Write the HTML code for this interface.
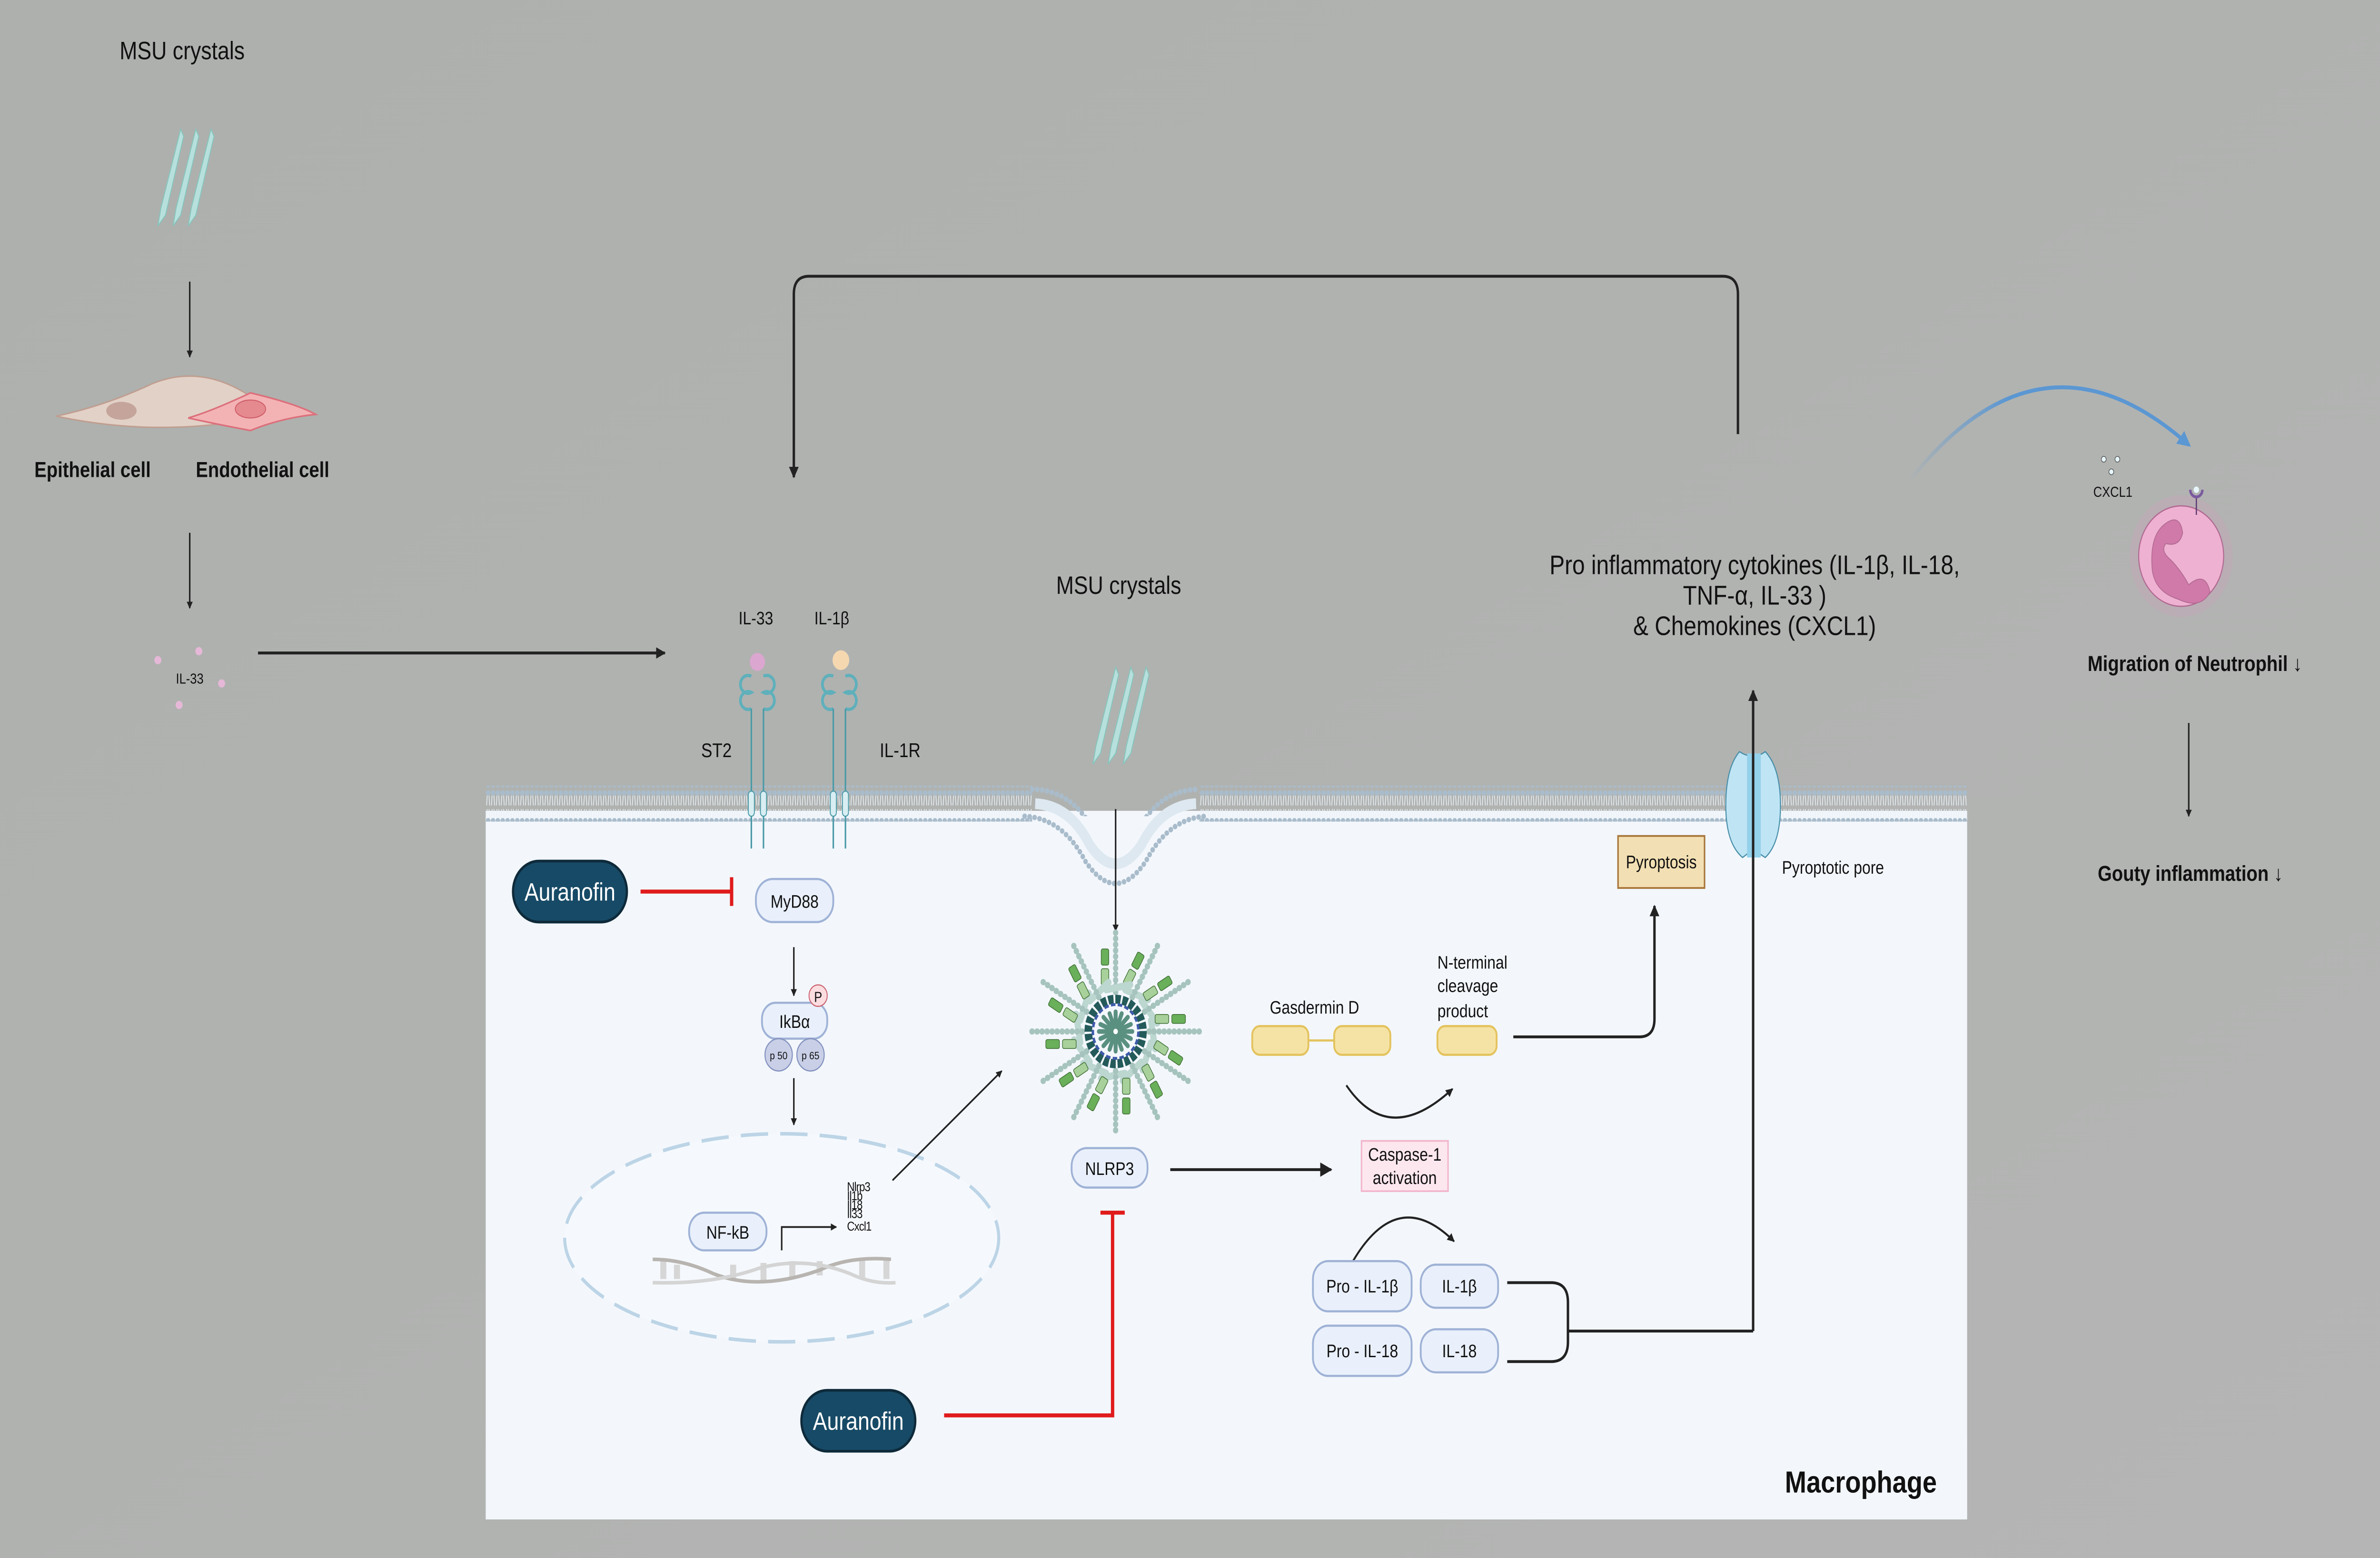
<!DOCTYPE html>
<html><head><meta charset="utf-8"><style>
html,body{margin:0;padding:0;background:#b1b3b1;width:100%;height:100%;overflow:hidden;}
svg{display:block;position:absolute;left:0;top:0;width:100vw;height:100vh;}
text{font-family:"Liberation Sans",sans-serif;fill:#111;}
</style></head><body>
<svg viewBox="0 0 1568 868.5" preserveAspectRatio="none" xmlns="http://www.w3.org/2000/svg">
<defs>
<marker id="ah" viewBox="0 0 10 10" refX="9" refY="5" markerWidth="4" markerHeight="4" orient="auto"><path d="M0,0L10,5L0,10z" fill="#222"/></marker>
<marker id="ahb" viewBox="0 0 10 10" refX="9" refY="5" markerWidth="5" markerHeight="5" orient="auto"><path d="M0,0L10,5L0,10z" fill="#222"/></marker>
<marker id="ahblue" viewBox="0 0 10 10" refX="8" refY="5" markerWidth="4" markerHeight="4" orient="auto"><path d="M0,0L10,5L0,10z" fill="#5b97d2"/></marker>
<linearGradient id="bg" x1="0" y1="0" x2="1" y2="1"><stop offset="0" stop-color="#adb0ad"/><stop offset="1" stop-color="#b4b5b4"/></linearGradient>
<linearGradient id="bl" x1="0" y1="0" x2="1" y2="0"><stop offset="0" stop-color="#5b97d2" stop-opacity="0"/><stop offset="0.35" stop-color="#5b97d2"/></linearGradient>
<pattern id="heads" x="0" y="0" width="3.2" height="20" patternUnits="userSpaceOnUse">
<circle cx="1.6" cy="2" r="1.5" fill="#a9bccb"/>
<path d="M1,3.5 L0.6,9 M2.2,3.5 L2.6,9 M1,11 L0.6,16 M2.2,11 L2.6,16" stroke="#e8f0f6" stroke-width="0.5" fill="none"/>
<circle cx="1.6" cy="17.5" r="1.5" fill="#a9bccb"/>
</pattern>
<g id="arm">
<path d="M0,-22 L0,-58" stroke="#a6c4bd" stroke-width="3.5" stroke-linecap="round" stroke-dasharray="0.1 3.2"/>
<rect x="-3.5" y="-46" width="5" height="9" rx="1" fill="#6aaf5a" stroke="#3a6a30" stroke-width="0.4" transform="translate(-6,0)"/>
<rect x="-3.5" y="-35" width="5" height="9" rx="1" fill="#a8d09a" stroke="#3a6a30" stroke-width="0.4" transform="translate(-6,0)"/>
<rect x="-4" y="-26" width="20" height="4" rx="2" fill="#bcd6d0" transform="rotate(20)"/>
</g>
<path id="cry" d="M0,54 L2,44 L15,0 L17,4 L5,48z" fill="#b7e0dc" stroke="#86c4bc" stroke-width="0.6"/>
</defs>
<rect width="1568" height="868.5" fill="url(#bg)"/>

<text x="120" y="33" font-size="14" text-anchor="middle">MSU crystals</text>
<use href="#cry" x="104" y="72"/><use href="#cry" x="114" y="72"/><use href="#cry" x="124" y="72"/>
<line x1="125" y1="157" x2="125" y2="199" stroke="#222" stroke-width="1" marker-end="url(#ah)"/>
<path d="M37,232 Q70,226 100,214 Q140,200 180,231 Q110,245 37,232z" fill="#e2d1c7" stroke="#c09e90" stroke-width="0.8"/>
<ellipse cx="80" cy="229" rx="10" ry="5" fill="#c4a49b"/>
<path d="M124,233 Q140,229 165,219 Q195,225 208,231 Q185,233 165,240 Q140,236 124,233z" fill="#f3b3b5" stroke="#dc6f7a" stroke-width="0.9"/>
<ellipse cx="165" cy="228" rx="10" ry="5" fill="#e58a8f" stroke="#d0606b" stroke-width="0.6"/>
<text x="61" y="266" font-size="12" font-weight="bold" text-anchor="middle">Epithelial cell</text>
<text x="173" y="266" font-size="12" font-weight="bold" text-anchor="middle">Endothelial cell</text>
<line x1="125" y1="297" x2="125" y2="339" stroke="#222" stroke-width="1" marker-end="url(#ah)"/>
<g fill="#e6b8d8"><circle cx="104" cy="368" r="2.3"/><circle cx="131" cy="363" r="2.3"/><circle cx="146" cy="381" r="2.3"/><circle cx="118" cy="393" r="2.3"/></g>
<text x="125" y="381" font-size="8" text-anchor="middle">IL-33</text>
<line x1="170" y1="364" x2="438" y2="364" stroke="#222" stroke-width="1.6" marker-end="url(#ah)"/>

<path d="M1145,242 L1145,164 Q1145,154 1135,154 L533,154 Q523,154 523,164 L523,266" fill="none" stroke="#222" stroke-width="1.6" marker-end="url(#ah)"/>

<rect x="320" y="452" width="976" height="395" fill="#f3f7fc"/>
<rect x="320" y="438" width="360" height="20" fill="url(#heads)"/>
<rect x="790" y="438" width="506" height="20" fill="url(#heads)"/>
<path d="M680,440 Q705,440 720,462 Q735,480 750,462 Q765,440 790,440" fill="none" stroke="#a9bccb" stroke-width="3" stroke-dasharray="0.1 3.2" stroke-linecap="round"/>
<path d="M675,455 Q700,456 715,480 Q735,505 755,480 Q770,456 795,455" fill="#f3f7fc" stroke="#a9bccb" stroke-width="3" stroke-dasharray="0.1 3.2" stroke-linecap="round"/>
<path d="M682,448 Q705,449 718,471 Q735,492 752,471 Q765,449 788,448" fill="none" stroke="#dde8f0" stroke-width="6"/>

<text x="498" y="348" font-size="10" text-anchor="middle">IL-33</text>
<text x="548" y="348" font-size="10" text-anchor="middle">IL-1β</text>
<circle cx="499" cy="369" r="5" fill="#dba6cf"/>
<circle cx="554" cy="368" r="5.5" fill="#f5d8b0"/>
<g fill="none" stroke="#5fb0bb" stroke-width="1.8">
<path d="M495,377 a5,5 0 1 0 0,9 a5,5 0 1 0 0,9"/><path d="M503,377 a5,5 0 1 1 0,9 a5,5 0 1 1 0,9"/>
<path d="M549,377 a5,5 0 1 0 0,9 a5,5 0 1 0 0,9"/><path d="M557,377 a5,5 0 1 1 0,9 a5,5 0 1 1 0,9"/>
</g>
<g stroke="#4a9aa6" stroke-width="1"><line x1="495" y1="395" x2="495" y2="473"/><line x1="503" y1="395" x2="503" y2="473"/><line x1="549" y1="395" x2="549" y2="473"/><line x1="557" y1="395" x2="557" y2="473"/></g>
<g fill="#d8eef3" stroke="#4a9aa6" stroke-width="0.6"><rect x="493" y="441" width="4" height="14" rx="2"/><rect x="501" y="441" width="4" height="14" rx="2"/><rect x="547" y="441" width="4" height="14" rx="2"/><rect x="555" y="441" width="4" height="14" rx="2"/></g>
<text x="472" y="422" font-size="11" text-anchor="middle">ST2</text>
<text x="593" y="422" font-size="11" text-anchor="middle">IL-1R</text>

<text x="737" y="331" font-size="14" text-anchor="middle">MSU crystals</text>
<use href="#cry" x="720" y="372"/><use href="#cry" x="730" y="372"/><use href="#cry" x="740" y="372"/>
<line x1="735" y1="451" x2="735" y2="519" stroke="#222" stroke-width="1" marker-end="url(#ah)"/>

<rect x="338" y="480" width="75" height="34" rx="17" fill="#174a66" stroke="#0e2a3a" stroke-width="1.5"/>
<text x="375.5" y="502" font-size="14" text-anchor="middle" style="fill:#fff">Auranofin</text>
<line x1="422" y1="497" x2="481" y2="497" stroke="#e01b1b" stroke-width="2.2"/>
<line x1="482" y1="489" x2="482" y2="505" stroke="#e01b1b" stroke-width="2.2"/>

<rect x="498" y="490" width="51" height="24" rx="11" fill="#e9f0fb" stroke="#9fb2d6" stroke-width="1.2"/>
<text x="523.5" y="506" font-size="10" text-anchor="middle">MyD88</text>
<line x1="523" y1="528" x2="523" y2="555" stroke="#222" stroke-width="1" marker-end="url(#ah)"/>
<rect x="502" y="559" width="43" height="20" rx="9" fill="#e9f0fb" stroke="#9fb2d6" stroke-width="1.2"/>
<text x="523.5" y="573" font-size="10" text-anchor="middle">IkBα</text>
<circle cx="539" cy="555" r="6" fill="#fbdde0" stroke="#c9606d" stroke-width="0.6"/>
<text x="539" y="558.5" font-size="8" text-anchor="middle">P</text>
<circle cx="513" cy="588" r="9" fill="#c9cfe6" stroke="#8593c0" stroke-width="0.7"/>
<circle cx="534" cy="588" r="9" fill="#c9cfe6" stroke="#8593c0" stroke-width="0.7"/>
<text x="513" y="590.5" font-size="6" text-anchor="middle">p 50</text>
<text x="534" y="590.5" font-size="6" text-anchor="middle">p 65</text>
<line x1="523" y1="601" x2="523" y2="627" stroke="#222" stroke-width="1" marker-end="url(#ah)"/>

<ellipse cx="515" cy="690" rx="143" ry="58" fill="#f5f9fd" stroke="#bcd4e6" stroke-width="2" stroke-dasharray="18 8"/>
<rect x="454" y="676" width="51" height="21" rx="10" fill="#e9f0fb" stroke="#9fb2d6" stroke-width="1.2"/>
<text x="479.5" y="690.5" font-size="10" text-anchor="middle">NF-kB</text>
<g stroke="#d6d6d6" stroke-width="4"><line x1="437" y1="702" x2="437" y2="713"/><line x1="446" y1="705" x2="446" y2="713"/><line x1="483" y1="705" x2="483" y2="714"/><line x1="503" y1="704" x2="503" y2="714"/><line x1="522" y1="703" x2="522" y2="713"/><line x1="540" y1="703" x2="540" y2="711"/><line x1="568" y1="702" x2="568" y2="713"/><line x1="584" y1="702" x2="584" y2="713"/></g>
<path d="M430,702 Q450,702 470,710 Q500,720 540,708 Q560,700 587,702" fill="none" stroke="#b8b4b0" stroke-width="2"/>
<path d="M430,715 Q470,716 500,707 Q530,700 560,710 Q575,716 590,715" fill="none" stroke="#d4d4d4" stroke-width="2"/>
<path d="M515,697 L515,684 L551,684" fill="none" stroke="#222" stroke-width="1" marker-end="url(#ah)"/>
<g font-size="7" style="letter-spacing:-0.3px"><text x="558" y="664">Nlrp3</text><text x="558" y="669">Il1b</text><text x="558" y="674">Il18</text><text x="558" y="679">Il33</text><text x="558" y="686">Cxcl1</text></g>
<line x1="588" y1="658" x2="660" y2="597" stroke="#222" stroke-width="1" marker-end="url(#ah)"/>

<g transform="translate(735,575)">
<g><use href="#arm"/></g><g transform="rotate(30)"><use href="#arm"/></g><g transform="rotate(60)"><use href="#arm"/></g><g transform="rotate(90)"><use href="#arm"/></g><g transform="rotate(120)"><use href="#arm"/></g><g transform="rotate(150)"><use href="#arm"/></g><g transform="rotate(180)"><use href="#arm"/></g><g transform="rotate(210)"><use href="#arm"/></g><g transform="rotate(240)"><use href="#arm"/></g><g transform="rotate(270)"><use href="#arm"/></g><g transform="rotate(300)"><use href="#arm"/></g><g transform="rotate(330)"><use href="#arm"/></g>
<circle r="18" fill="none" stroke="#245a5a" stroke-width="5" stroke-dasharray="3.5 1.2"/>
<circle r="15" fill="#f3f7fc" stroke="#3d5aa8" stroke-width="1.6" stroke-dasharray="3 1.5"/>
<g stroke="#5a9080" stroke-width="2.6" stroke-linecap="round"><line x1="0" y1="-11" x2="0" y2="11"/><line x1="-11" y1="0" x2="11" y2="0"/><line x1="-8" y1="-8" x2="8" y2="8"/><line x1="-8" y1="8" x2="8" y2="-8"/><line x1="-4" y1="-10" x2="4" y2="10"/><line x1="-10" y1="-4" x2="10" y2="4"/><line x1="-10" y1="4" x2="10" y2="-4"/><line x1="-4" y1="10" x2="4" y2="-10"/></g>
<circle r="1.5" fill="#fff"/>
</g>
<rect x="706" y="640" width="50" height="22" rx="10" fill="#e9f0fb" stroke="#9fb2d6" stroke-width="1.2"/>
<text x="731" y="655" font-size="10" text-anchor="middle">NLRP3</text>

<rect x="528" y="775" width="75" height="34" rx="17" fill="#174a66" stroke="#0e2a3a" stroke-width="1.5"/>
<text x="565.5" y="797" font-size="14" text-anchor="middle" style="fill:#fff">Auranofin</text>
<path d="M622,789 L733,789 L733,677" fill="none" stroke="#e01b1b" stroke-width="2.2"/>
<line x1="725" y1="676" x2="741" y2="676" stroke="#e01b1b" stroke-width="2.2"/>

<line x1="771" y1="652" x2="877" y2="652" stroke="#222" stroke-width="1.6" marker-end="url(#ahb)"/>
<rect x="897" y="636" width="57" height="28" fill="#fde7ef" stroke="#f2b7cc" stroke-width="1"/>
<text x="925.5" y="647" font-size="10" text-anchor="middle">Caspase-1</text>
<text x="925.5" y="660" font-size="10" text-anchor="middle">activation</text>

<text x="866" y="565" font-size="10" text-anchor="middle">Gasdermin D</text>
<line x1="860" y1="580" x2="880" y2="580" stroke="#e4c35e" stroke-width="1.2"/>
<rect x="825" y="572" width="37" height="16" rx="5" fill="#f5e3a6" stroke="#e4c35e" stroke-width="1.2"/>
<rect x="879" y="572" width="37" height="16" rx="5" fill="#f5e3a6" stroke="#e4c35e" stroke-width="1.2"/>
<text x="947" y="540" font-size="10">N-terminal</text>
<text x="947" y="553" font-size="10">cleavage</text>
<text x="947" y="567" font-size="10">product</text>
<rect x="947" y="572" width="39" height="16" rx="5" fill="#f5e3a6" stroke="#e4c35e" stroke-width="1.2"/>
<path d="M887,605 Q915,640 957,607" fill="none" stroke="#222" stroke-width="1.2" marker-end="url(#ah)"/>
<path d="M997,578 L1080,578 Q1090,578 1090,568 L1090,505" fill="none" stroke="#222" stroke-width="1.6" marker-end="url(#ah)"/>
<rect x="1066" y="466" width="57" height="29" fill="#f2e0b4" stroke="#a8763a" stroke-width="1"/>
<text x="1094.5" y="484" font-size="10" text-anchor="middle">Pyroptosis</text>

<path d="M1146,419 Q1137,428 1137,449 Q1137,470 1148,478 Q1155,474 1155,470 Q1155,474 1163,478 Q1173,470 1173,449 Q1173,428 1163,419 Q1155,424 1146,419z" fill="#bfe5f5" stroke="#4a8fa8" stroke-width="0.7"/>
<rect x="1151" y="420" width="9" height="58" fill="#94d1ea"/>
<text x="1174" y="487" font-size="10">Pyroptotic pore</text>
<line x1="1155" y1="742" x2="1155" y2="385" stroke="#222" stroke-width="1.6" marker-end="url(#ah)"/>

<path d="M890,705 Q920,660 958,692" fill="none" stroke="#222" stroke-width="1.2" marker-end="url(#ah)"/>
<g fill="#e9f0fb" stroke="#9fb2d6" stroke-width="1.2">
<rect x="865" y="703" width="65" height="28" rx="10"/><rect x="936" y="705" width="51" height="24" rx="10"/>
<rect x="865" y="739" width="65" height="28" rx="10"/><rect x="936" y="741" width="51" height="24" rx="10"/>
</g>
<g font-size="10" text-anchor="middle"><text x="897.5" y="720.5">Pro - IL-1β</text><text x="961.5" y="720.5">IL-1β</text><text x="897.5" y="756.5">Pro - IL-18</text><text x="961.5" y="756.5">IL-18</text></g>
<path d="M993,715 L1022,715 Q1033,715 1033,726 L1033,748 Q1033,759 1022,759 L993,759 M1033,742 L1155,742" fill="none" stroke="#222" stroke-width="1.6"/>
<g font-size="15" text-anchor="middle"><text x="1156" y="320">Pro inflammatory cytokines (IL-1β, IL-18,</text><text x="1156" y="337">TNF-α, IL-33 )</text><text x="1156" y="354">&amp; Chemokines (CXCL1)</text></g>

<text x="1226" y="832" font-size="17" font-weight="bold" text-anchor="middle">Macrophage</text>

<path d="M1258,268 Q1345,175 1442,248" fill="none" stroke="url(#bl)" stroke-width="2.2" marker-end="url(#ahblue)"/>
<g fill="#e6f6fa" stroke="#555" stroke-width="0.4"><circle cx="1386" cy="256" r="1.6"/><circle cx="1395" cy="256" r="1.6"/><circle cx="1391" cy="263" r="1.6"/></g>
<text x="1392" y="277" font-size="8" text-anchor="middle">CXCL1</text>
<circle cx="1437" cy="310" r="34" fill="#d79ac0" opacity="0.25"/>
<circle cx="1437" cy="310" r="28" fill="#efb1d1" stroke="#b06a92" stroke-width="0.7"/>
<path d="M1425,293 Q1436,285 1438,297 Q1436,305 1427,303 Q1423,307 1430,312 Q1437,318 1442,326 Q1453,318 1456,330 Q1450,340 1435,334 Q1420,330 1418,318 Q1416,300 1425,293z" fill="#d07aa9" stroke="#b06a92" stroke-width="0.5"/>
<line x1="1447" y1="277" x2="1447" y2="287" stroke="#5a3a72" stroke-width="0.8"/>
<path d="M1443,273 a4,4 0 0 0 8,0" fill="none" stroke="#7a5aa0" stroke-width="1.6"/>
<circle cx="1447" cy="273" r="1.8" fill="#e6f6fa"/>
<text x="1446" y="374" font-size="12" font-weight="bold" text-anchor="middle">Migration of Neutrophil ↓</text>
<line x1="1442" y1="403" x2="1442" y2="455" stroke="#222" stroke-width="1" marker-end="url(#ah)"/>
<text x="1443" y="491" font-size="12" font-weight="bold" text-anchor="middle">Gouty inflammation ↓</text>
</svg>
</body></html>
